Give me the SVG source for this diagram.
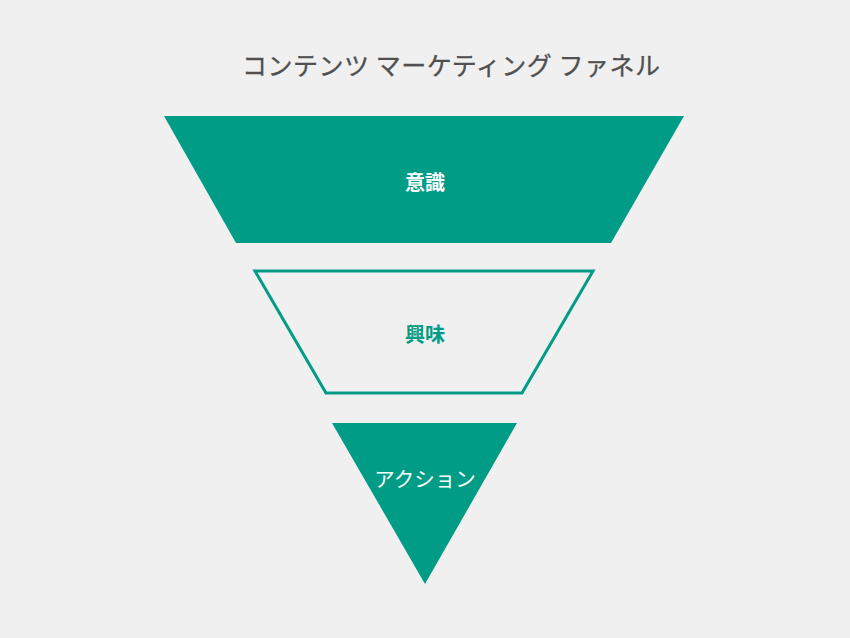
<svg xmlns="http://www.w3.org/2000/svg" width="850" height="638" viewBox="0 0 850 638">
<style>
.t{font-family:"Noto Sans CJK JP","Noto Sans CJK SC",sans-serif;text-anchor:middle;dominant-baseline:central}
.fill{fill:#009c86}
</style>
<rect width="850" height="638" fill="#f0f0f0"/>
<text class="t" x="451" y="64" font-size="25" fill="#505050" stroke="#505050" stroke-width="0.3" textLength="418" lengthAdjust="spacing">コンテンツ マーケティング ファネル</text>
<g id="awareness">
<polygon class="fill" points="164,116 684,116 611,243 236,243"/>
<text class="t" x="425" y="181" font-size="20" font-weight="bold" fill="#ffffff">意識</text>
</g>
<g id="interest">
<polygon points="255,271 593,271 522,393 326,393" fill="none" stroke="#009c86" stroke-width="3"/>
<text class="t" x="425" y="333" font-size="20" font-weight="bold" fill="#009c86">興味</text>
</g>
<g id="action">
<polygon class="fill" points="332,423 517,423 425,584"/>
<text class="t" x="425" y="478" font-size="20.5" fill="#ffffff">アクション</text>
</g>
<g id="connectors"/>
</svg>
